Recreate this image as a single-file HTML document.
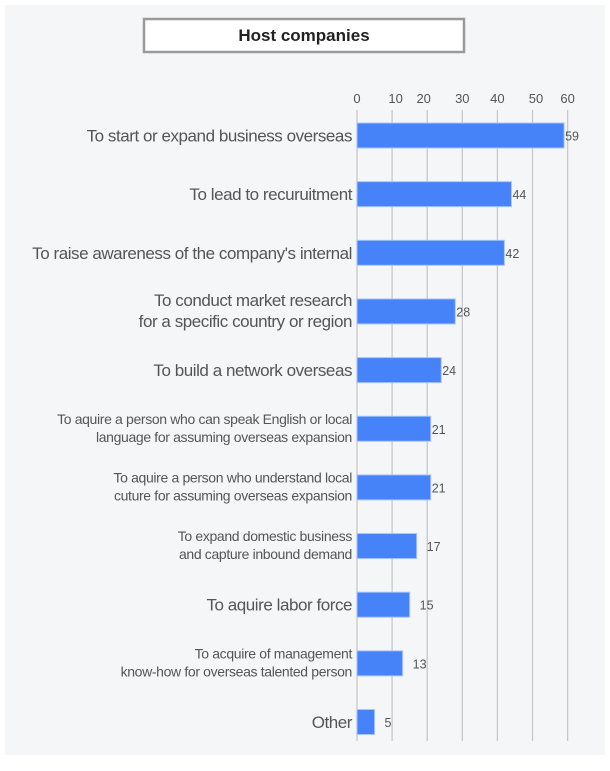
<!DOCTYPE html>
<html><head><meta charset="utf-8"><style>
html,body{margin:0;padding:0;background:#fff;}
svg{display:block;font-family:"Liberation Sans",Arial,sans-serif;}
</style></head><body>
<svg id="chart" width="610" height="771" viewBox="0 0 610 771">
<rect x="5" y="5" width="600" height="750" fill="#f5f6f8"/>
<rect x="144" y="19" width="320" height="33" fill="#fff" stroke="#9a9a9a" stroke-width="2.5"/>
<text x="304" y="41" text-anchor="middle" font-size="17" font-weight="bold" fill="#222">Host companies</text>
<g id="grid"></g><g id="bars"></g><g id="labels"></g>
</svg>
<script>
const categories = [
 ["To start or expand business overseas"],
 ["To lead to recuruitment"],
 ["To raise awareness of the company's internal"],
 ["To conduct market research","for a specific country or region"],
 ["To build a network overseas"],
 ["To aquire a person who can speak English or local","language for assuming overseas expansion"],
 ["To aquire a person who understand local","cuture for assuming overseas expansion"],
 ["To expand domestic business","and capture inbound demand"],
 ["To aquire labor force"],
 ["To acquire of management","know-how for overseas talented person"],
 ["Other"]
];
const values = [59,44,42,28,24,21,21,17,15,13,5];
const ticks = [0,10,20,30,40,50,60];
const tickLabelPos = [0,11,19,30,40,51,60];

const NS="http://www.w3.org/2000/svg";
const x0=357, unit=3.51;
const xs=v=>x0+v*unit;
const yc=i=>135.5+i*58.65;
function mk(tag,attrs,parent,txt){const e=document.createElementNS(NS,tag);for(const k in attrs)e.setAttribute(k,attrs[k]);if(txt!==undefined)e.textContent=txt;parent.appendChild(e);return e;}
const g=document.getElementById('grid'),b=document.getElementById('bars'),l=document.getElementById('labels');
ticks.forEach((t,i)=>{
 const ln=mk('line',{x1:xs(t),x2:xs(t),y1:110,y2:741,stroke:'#c8c8c8','stroke-width':1.3},g);
 
 
 const tx=mk('text',{x:xs(tickLabelPos[i]),y:103,'text-anchor':'middle','font-size':13,fill:'#555'},g,String(t));
 
 
});
values.forEach((v,i)=>{
 const c=yc(i);
 const r=mk('rect',{x:x0,y:c-12.5,width:xs(v)-x0,height:25,fill:'#4682f8',stroke:'#a9c4f8','stroke-width':1},b);
 
 
 const vt=mk('text',{x:xs(v)+(v<20?10:1),y:c+5,'font-size':12.5,fill:'#555'},b,String(v));
 
 
 const lines=categories[i];
 const t=mk('text',{'text-anchor':'end',fill:'#555'},l);
 
 
 if(lines.length===1){
  t.setAttribute('font-size',17);t.setAttribute('letter-spacing','-0.45');
  mk('tspan',{x:352,y:c+6},t,lines[0]);
 }else{
  const big=(i===3);
  t.setAttribute('font-size',big?17:14);t.setAttribute('letter-spacing',big?'-0.45':'-0.35');
  const d=big?10.5:9;
  mk('tspan',{x:352,y:c-d+(big?5:4)},t,lines[0]);
  mk('tspan',{x:352,y:c+d+(big?5:4)},t,lines[1]);
 }
});
</script>
</body></html>
